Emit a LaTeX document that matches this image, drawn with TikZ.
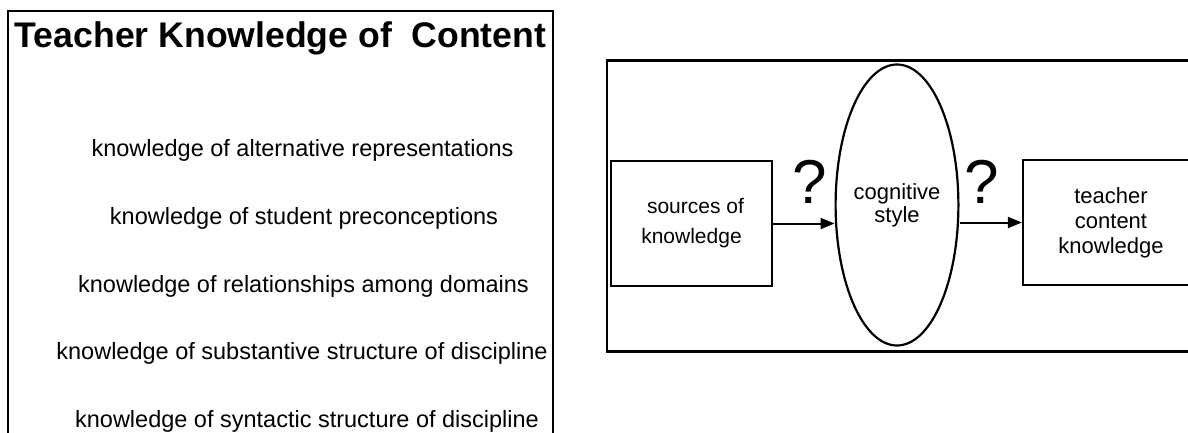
\documentclass[tikz,border=0pt]{standalone}
\usepackage{fontspec}
\setmainfont{Liberation Sans}
\usetikzlibrary{arrows.meta,shapes.geometric}
\begin{document}
\begin{tikzpicture}[x=1pt,y=-1pt,
  frame/.style={line width=2.2pt},
  item/.style={anchor=base,font=\fontsize{23.5}{27}\selectfont,inner sep=0pt},
  boxnode/.style={draw,line width=2.2pt,rectangle,align=center,inner sep=0pt},
  qmark/.style={anchor=base,font=\fontsize{62}{70}\selectfont,inner sep=0pt},
  arr/.style={line width=2pt,-{Triangle[length=14pt,width=11pt]}}]
\useasboundingbox (0,0) rectangle (1188,433);
\clip (0,0) rectangle (1188,433);
\fill[white] (0,0) rectangle (1188,433);

% left panel: frame open at the bottom
\draw[frame] (8,445) -- (8,11) -- (553,11) -- (553,445);
\node[anchor=base,inner sep=0pt,font=\fontsize{35.6}{40}\selectfont\bfseries]
  (title) at (280.5,48) {Teacher Knowledge of\ \ Content};
\node[item] (k1) at (302.5,157) {knowledge of alternative representations};
\node[item] (k2) at (304,224.5) {knowledge of student preconceptions};
\node[item] (k3) at (303.5,292) {knowledge of relationships among domains};
\node[item] (k4) at (302,359.5) {knowledge of substantive structure of discipline};
\node[item] (k5) at (307,427) {knowledge of syntactic structure of discipline};

% right panel: frame running off the right edge
\draw[frame] (1200,60.5) -- (607,60.5) -- (607,351.5) -- (1200,351.5);

\node[boxnode,minimum width=161pt,minimum height=125pt,
  font=\fontsize{21}{30}\selectfont] (src) at (691.5,223.5)
  {\hspace*{8pt}sources of\\knowledge};
\node[draw,ellipse,line width=2.2pt,minimum width=110pt,minimum height=281pt,
  inner sep=0pt,align=center,font=\fontsize{22}{23}\selectfont] (cog) at (897,205)
  {cognitive\\style};
\node[boxnode,minimum width=176pt,minimum height=125pt,
  font=\fontsize{22}{25}\selectfont] (tck) at (1111,222.5)
  {teacher\\content\\knowledge};

\draw[arr] (src.east) -- (src.east -| cog.west);
\draw[arr] (tck.west -| cog.east) -- (tck.west);

\node[qmark] (q1) at (810,203) {?};
\node[qmark] (q2) at (982,203) {?};
\end{tikzpicture}
\end{document}
